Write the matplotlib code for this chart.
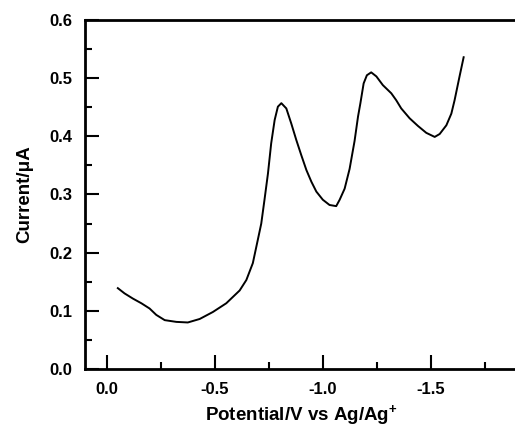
import numpy as np
import matplotlib.pyplot as plt
from matplotlib.ticker import MultipleLocator

plt.rcParams['font.family'] = ['Liberation Sans', 'DejaVu Sans']
plt.rcParams['font.weight'] = 'bold'
plt.rcParams['mathtext.fontset'] = 'custom'
plt.rcParams['mathtext.rm'] = 'Liberation Sans:bold'
plt.rcParams['mathtext.default'] = 'rm'

# potential (V vs Ag/Ag+) and current (uA)
potential = [-0.052, -0.083, -0.122, -0.161, -0.199, -0.230, -0.269, -0.323, -0.376,
             -0.431, -0.492, -0.554, -0.616, -0.647, -0.677, -0.700, -0.716, -0.731,
             -0.747, -0.762, -0.778, -0.793, -0.809, -0.832, -0.855, -0.878, -0.901,
             -0.925, -0.948, -0.971, -1.001, -1.032, -1.063, -1.079, -1.102, -1.125,
             -1.148, -1.164, -1.175, -1.190, -1.205, -1.225, -1.249, -1.279, -1.318,
             -1.341, -1.364, -1.403, -1.441, -1.480, -1.519, -1.542, -1.573, -1.596,
             -1.611, -1.634, -1.653]
current = [0.139, 0.130, 0.121, 0.113, 0.104, 0.093, 0.084, 0.081, 0.080,
           0.086, 0.098, 0.113, 0.135, 0.153, 0.182, 0.222, 0.250, 0.291,
           0.336, 0.388, 0.428, 0.451, 0.457, 0.448, 0.422, 0.394, 0.368,
           0.342, 0.322, 0.305, 0.291, 0.282, 0.280, 0.291, 0.310, 0.344,
           0.392, 0.434, 0.457, 0.491, 0.505, 0.510, 0.503, 0.488, 0.474,
           0.462, 0.448, 0.431, 0.418, 0.406, 0.399, 0.404, 0.419, 0.439,
           0.462, 0.503, 0.536]

fig = plt.figure(figsize=(5.15, 4.28), dpi=100)
# right spine falls just outside the picture, as in the original
ax = fig.add_axes([85 / 515, 1 - 369 / 428, 432 / 515, 349 / 428])

ax.plot(potential, current, color='black', lw=1.4, solid_joinstyle='round')

ax.set_xlim(0.1, -1.9)
ax.set_ylim(0.0, 0.6)
ax.xaxis.set_major_locator(MultipleLocator(0.5))
ax.xaxis.set_minor_locator(MultipleLocator(0.25))
ax.yaxis.set_major_locator(MultipleLocator(0.1))
ax.yaxis.set_minor_locator(MultipleLocator(0.05))
ax.set_xticks([0.0, -0.5, -1.0, -1.5])
ax.set_xticklabels(['0.0', '-0.5', '-1.0', '-1.5'])
ax.set_yticks([0.0, 0.1, 0.2, 0.3, 0.4, 0.5, 0.6])
ax.set_yticklabels(['0.0', '0.1', '0.2', '0.3', '0.4', '0.5', '0.6'])

for s in ax.spines.values():
    s.set_linewidth(2)
ax.tick_params(which='both', direction='in', width=1.5, labelsize=12)
ax.tick_params(which='major', length=10, pad=9)
ax.tick_params(which='minor', length=5)
ax.tick_params(top=False, right=False)

ax.set_xlabel('Potential/V vs Ag/Ag$^{+}$', fontsize=13.5, fontweight='bold', labelpad=5)
ax.set_ylabel('Current/\u03bcA', fontsize=13.5, fontweight='bold', labelpad=12)

fig.savefig('out.png', dpi=100)
